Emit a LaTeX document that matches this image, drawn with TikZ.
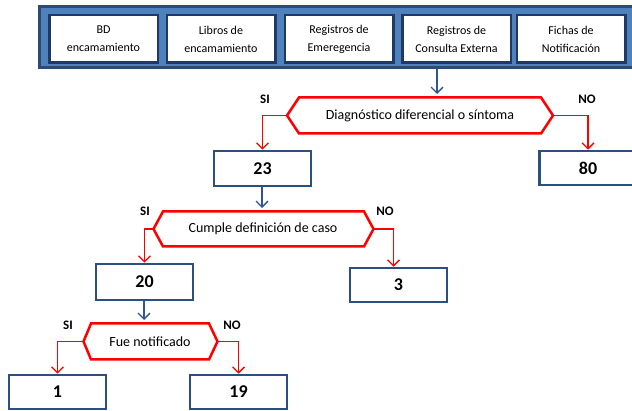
\documentclass[tikz,border=0pt]{standalone}
\usepackage{fontspec}
\setmainfont{Carlito}
\usetikzlibrary{arrows.meta}
\definecolor{bannerfill}{HTML}{4F81BD}
\definecolor{bannerline}{HTML}{2C4A75}
\definecolor{srcline}{HTML}{1F3864}
\definecolor{boxline}{HTML}{2B4F81}
\definecolor{flowblue}{HTML}{2E5597}
\definecolor{decred}{HTML}{FF0000}
\tikzset{
 banner/.style={draw=bannerline, line width=3pt, fill=bannerfill, minimum width=601pt, minimum height=61pt, inner sep=0pt},
 srcbox/.style={draw=srcline, line width=2.5pt, fill=white, minimum width=108.5pt, minimum height=47.5pt, inner sep=0pt, align=center, font=\fontsize{12}{18}\selectfont},
 countbox/.style={draw=boxline, line width=2.5pt, fill=white, minimum width=97pt, minimum height=34pt, inner sep=0pt, font=\fontsize{18}{20}\selectfont\bfseries},
 decision/.style={draw=decred, line width=2.5pt, fill=white, line join=miter},
 dectext/.style={font=\fontsize{14}{16}\selectfont, inner sep=0pt},
 yesno/.style={font=\fontsize{13}{15}\selectfont\bfseries, inner sep=0pt},
 redflow/.style={draw=decred, line width=1.3pt, -{Straight Barb[length=6pt,width=12pt]}},
 blueflow/.style={draw=flowblue, line width=1.3pt, -{Straight Barb[length=6pt,width=12pt]}},
}
\begin{document}
\begin{tikzpicture}[x=1pt,y=-1pt]
\useasboundingbox (0,0) rectangle (632,411);
\clip (0,0) rectangle (632,411);

% banner with sources
\node[banner] (banner) at (339.5,37) {};
\node[srcbox] (s1) at (103.5,39) {BD\\encamamiento};
\node[srcbox] (s2) at (221,39) {Libros de\\encamamiento};
\node[srcbox] (s3) at (339,39) {Registros de\\Emeregencia};
\node[srcbox] (s4) at (456.5,39) {Registros de\\Consulta Externa};
\node[srcbox] (s5) at (571,39) {Fichas de\\Notificación};

% decision 1
\coordinate (d1w) at (287,115.5);
\coordinate (d1e) at (553,115.5);
\coordinate (d1in) at (437,94);
\draw[decision] (d1w) -- (299,97.5) -- (541,97.5) -- (d1e) -- (541,133.5) -- (299,133.5) -- cycle;
\node[dectext] (d1) at (420,116) {Diagnóstico diferencial o síntoma};
\node[yesno] (si1) at (265,99) {SI};
\node[yesno] (no1) at (587,99) {NO};

\node[countbox, minimum height=35pt] (n23) at (262.5,168.5) {23};
\node[countbox] (n80) at (588,168) {80};

% decision 2
\coordinate (d2w) at (153.5,229);
\coordinate (d2e) at (373.5,229);
\coordinate (d2in) at (262,208);
\draw[decision] (d2w) -- (163,211.5) -- (364,211.5) -- (d2e) -- (364,246.5) -- (163,246.5) -- cycle;
\node[dectext] (d2) at (263,229) {Cumple definición de caso};
\node[yesno] (si2) at (145,211) {SI};
\node[yesno] (no2) at (385,211) {NO};

\node[countbox, minimum height=36pt] (n20) at (144.5,282) {20};
\node[countbox] (n3) at (398.5,285) {3};

% decision 3
\coordinate (d3w) at (83.5,341.5);
\coordinate (d3e) at (217.5,341.5);
\coordinate (d3in) at (144,320);
\draw[decision] (d3w) -- (91,323.5) -- (209,323.5) -- (d3e) -- (209,359.5) -- (91,359.5) -- cycle;
\node[dectext] (d3) at (150,341.5) {Fue notificado};
\node[yesno] (si3) at (68,325) {SI};
\node[yesno] (no3) at (232,325) {NO};

\node[countbox] (n1) at (57.5,392) {1};
\node[countbox] (n19) at (238.5,392) {19};

% connectors
\draw[blueflow] (banner.south -| d1in) -- (d1in);
\draw[redflow] (d1w) -| (n23.north);
\draw[redflow] (d1e) -| (n80.north);
\draw[blueflow] (n23.south -| d2in) -- (d2in);
\draw[redflow] (d2w) -| (n20.north);
\draw[redflow] (d2e) -| ([xshift=-5pt]n3.north);
\draw[blueflow] (n20.south -| d3in) -- (d3in);
\draw[redflow] (d3w) -| (n1.north);
\draw[redflow] (d3e) -| (n19.north);
\end{tikzpicture}
\end{document}
